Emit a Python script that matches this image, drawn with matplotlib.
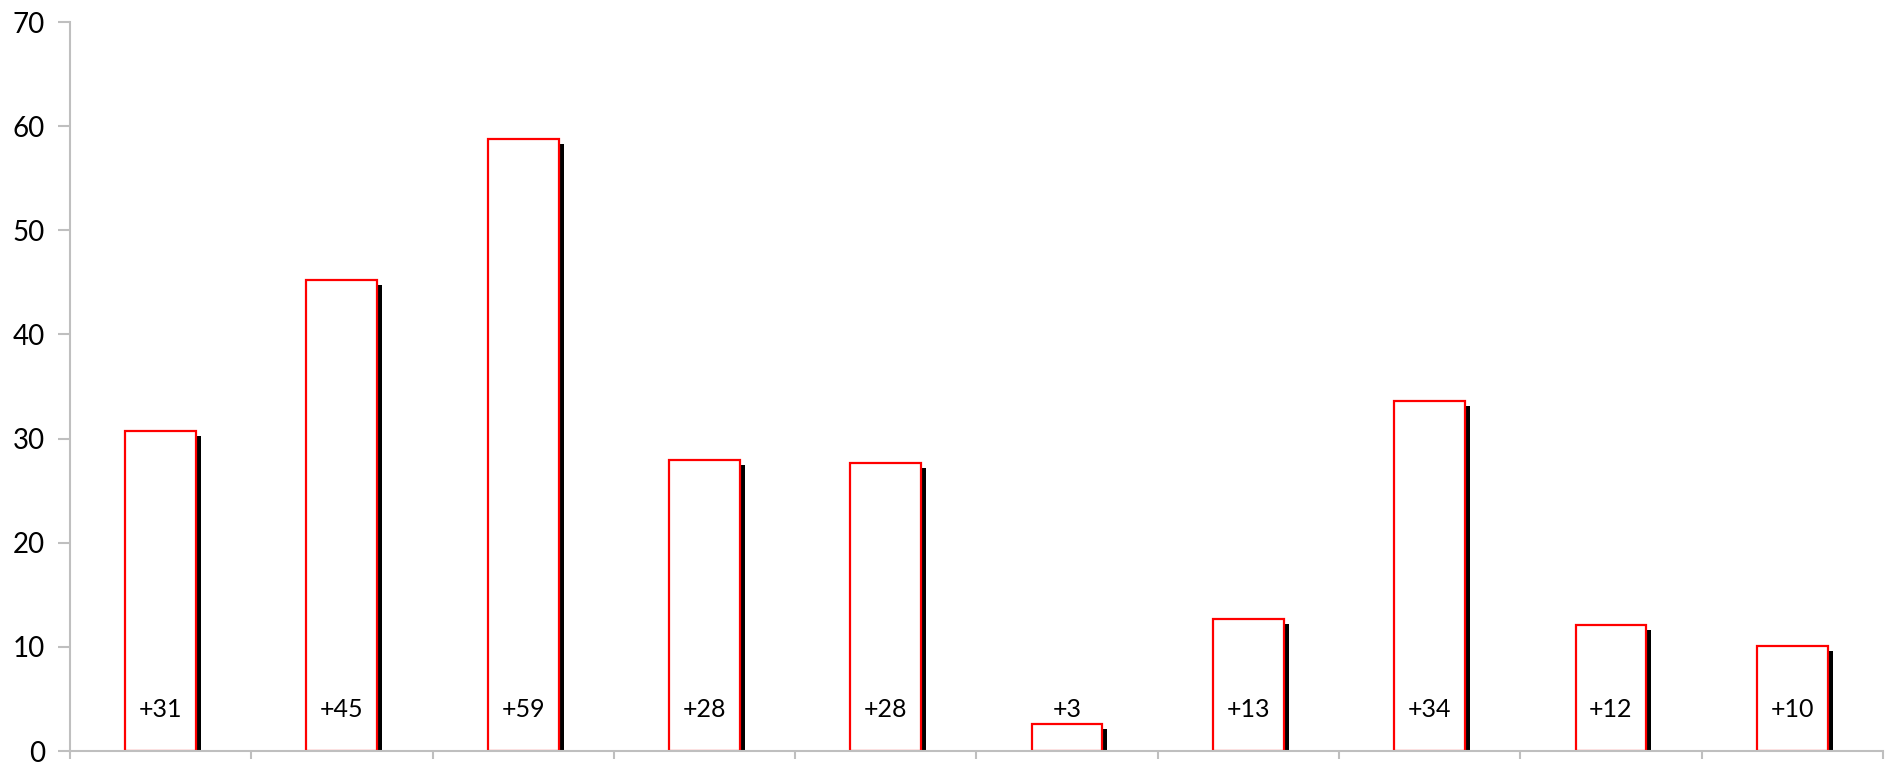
import numpy as np
import matplotlib
matplotlib.use('Agg')
import matplotlib.pyplot as plt
from matplotlib.transforms import ScaledTranslation

plt.rcParams['font.family'] = ['Lato', 'DejaVu Sans']

values = [30.7, 45.2, 58.8, 27.9, 27.7, 2.6, 12.7, 33.6, 12.1, 10.1]
labels = ['+31', '+45', '+59', '+28', '+28', '+3', '+13', '+34', '+12', '+10']

x = np.arange(len(values))
bar_w = 0.39

fig = plt.figure(figsize=(18.89, 7.62), dpi=100)
ax = fig.add_axes([0.037, 0.0144, 0.9598, 0.9566])

# shadow: same bars shifted 5px right and 5px down
shift = ax.transData + ScaledTranslation(5 / 100, -5 / 100, fig.dpi_scale_trans)
ax.bar(x, values, width=bar_w, color='black', linewidth=0, transform=shift, zorder=1)
ax.bar(x, values, width=bar_w, facecolor='white', edgecolor='#ff0000', linewidth=1.6, zorder=2)

for xi, lab in zip(x, labels):
    ax.text(xi, 4.0, lab, ha='center', va='center', fontsize=18, zorder=3)

ax.set_xlim(-0.5, 9.5)
ax.set_ylim(0, 70)
ax.set_yticks(range(0, 71, 10))
ax.set_xticks(np.arange(-0.5, 10, 1))
ax.set_xticklabels([])

for s in ['top', 'right']:
    ax.spines[s].set_visible(False)
for s in ['left', 'bottom']:
    ax.spines[s].set_color('#bfbfbf')
    ax.spines[s].set_linewidth(1.5)
ax.tick_params(axis='both', colors='#bfbfbf', width=1.5, labelcolor='black', labelsize=20)
ax.tick_params(axis='x', length=6)
ax.tick_params(axis='y', length=9, pad=9)

plt.savefig('out.png', dpi=100)
